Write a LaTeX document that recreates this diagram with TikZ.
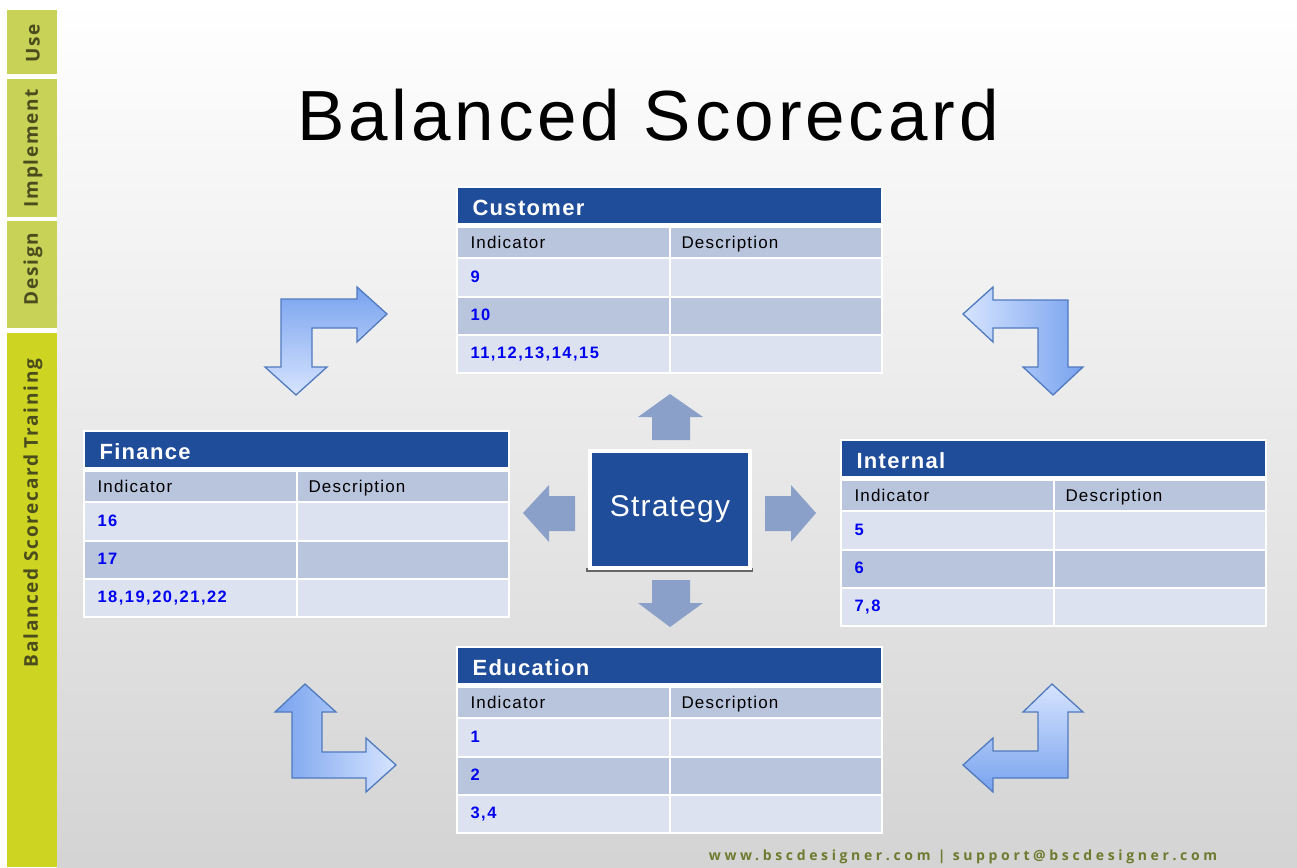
\documentclass[tikz,border=0pt]{standalone}
\usepackage{fontspec}
\setmainfont{Liberation Sans}
\newfontfamily\sidefont[LetterSpace=9]{Open Sans}
\newfontfamily\footfont[LetterSpace=26]{Open Sans}
\newfontfamily\titlefont[LetterSpace=5.5]{Liberation Sans}
\newfontfamily\headfont[LetterSpace=6]{Liberation Sans}
\newfontfamily\cellfont[LetterSpace=7]{Liberation Sans}
\newfontfamily\numfont[LetterSpace=9]{Liberation Sans}
\newfontfamily\stratfont[LetterSpace=4]{Liberation Sans}
\usepackage{tikz}
\usetikzlibrary{calc}
\definecolor{hdrblue}{RGB}{31,77,153}
\definecolor{rowdark}{RGB}{185,197,221}
\definecolor{rowlight}{RGB}{220,226,239}
\definecolor{numblue}{RGB}{0,0,240}
\definecolor{sidegreen}{RGB}{199,210,86}
\definecolor{sidelime}{RGB}{205,212,34}
\definecolor{sidetext}{RGB}{74,76,30}
\definecolor{footgreen}{RGB}{110,122,46}
\definecolor{stratarrow}{RGB}{138,160,201}
\definecolor{bentdark}{RGB}{120,162,238}
\definecolor{bentlight}{RGB}{214,228,255}
\definecolor{bentline}{RGB}{80,122,190}

\begin{document}
\begin{tikzpicture}[x=1pt, y=-1pt,
    bent/.style={draw=bentline, line width=1.3pt, line join=miter},
    sidelabel/.style={rotate=90, text=sidetext, font=\sidefont\bfseries\fontsize{19}{22}\selectfont}]
    \useasboundingbox (0,0) rectangle (1297,867);

    % background
    \fill[white] (0,0) rectangle (1297,867);
    \shade[top color=white, bottom color=black!17] (57,0) rectangle (1297,867);

    % side bar
    \fill[sidegreen] (7,10) rectangle (57,74);
    \fill[sidegreen] (7,79) rectangle (57,217);
    \fill[sidegreen] (7,221) rectangle (57,328);
    \fill[sidelime] (7,333) rectangle (57,867);
    \node[sidelabel] (use) at (33,43) {Use};
    \node[sidelabel] (impl) at (33,148) {Implement};
    \node[sidelabel] (design) at (33,269) {Design};
    \node[sidelabel] (train) at (33,513) {Balanced Scorecard Training};

    % title
    \node[anchor=base, font=\titlefont\fontsize{71}{80}\selectfont] (title) at (648,140) {Balanced Scorecard};

    % perspective tables
    \foreach \nm/\tx/\ty/\ttl/\va/\vb/\vc in {cust/458/188/Customer/9/10/{11,12,13,14,15},
                                             fin/85/432/Finance/16/17/{18,19,20,21,22},
                                             int/842/441/Internal/5/6/{7,8},
                                             edu/458/648/Education/1/2/{3,4}} {
        \fill[white] (\tx-2,\ty-2) rectangle (\tx+425,\ty+186);
        \fill[hdrblue] (\tx,\ty) rectangle (\tx+423,\ty+35);
        \foreach \ra/\rb/\col in {40/69/rowdark, 71/108/rowlight, 110/146/rowdark, 148/184/rowlight} {
            \fill[\col] (\tx,\ty+\ra) rectangle (\tx+211,\ty+\rb);
            \fill[\col] (\tx+213,\ty+\ra) rectangle (\tx+423,\ty+\rb);
        }
        \node[anchor=base west, text=white, font=\headfont\bfseries\fontsize{22}{25}\selectfont] (\nm-head) at (\tx+11,\ty+27) {\ttl};
        \node[anchor=base west, font=\cellfont\fontsize{17}{20}\selectfont] (\nm-ind) at (\tx+9,\ty+60) {Indicator};
        \node[anchor=base west, font=\cellfont\fontsize{17}{20}\selectfont] (\nm-desc) at (\tx+220,\ty+60) {Description};
        \node[anchor=base west, text=numblue, font=\numfont\bfseries\fontsize{16.5}{20}\selectfont] (\nm-a) at (\tx+9,\ty+94) {\va};
        \node[anchor=base west, text=numblue, font=\numfont\bfseries\fontsize{16.5}{20}\selectfont] (\nm-b) at (\tx+9,\ty+132) {\vb};
        \node[anchor=base west, text=numblue, font=\numfont\bfseries\fontsize{16.5}{20}\selectfont] (\nm-c) at (\tx+9,\ty+170) {\vc};
    }

    % strategy
    \fill[black!60] (586,568) rectangle (753,572);
    \node[fill=hdrblue, draw=white, line width=4pt, minimum width=160, minimum height=117,
          text=white, font=\stratfont\fontsize{30}{34}\selectfont] (strat) at (670,509.5) {Strategy};

    % arrows out of strategy
    \fill[stratarrow] (670,394) -- (703,417) -- (690,417) -- (690,440) -- (652,440) -- (652,417) -- (638,417) -- cycle;
    \fill[stratarrow] (652,580) -- (690,580) -- (690,603) -- (703,603) -- (670,627) -- (638,603) -- (652,603) -- cycle;
    \fill[stratarrow] (523,513) -- (549,485) -- (549,496) -- (575,496) -- (575,531) -- (549,531) -- (549,542) -- cycle;
    \fill[stratarrow] (816,513) -- (791,485) -- (791,496) -- (765,496) -- (765,531) -- (791,531) -- (791,542) -- cycle;

    % bent arrows between perspectives
    \shade[bent, top color=bentdark, bottom color=bentlight]
        (281,299) -- (357,299) -- (357,287) -- (387,314) -- (357,342) -- (357,328) -- (312,328)
        -- (312,367) -- (327,367) -- (296,395) -- (265,367) -- (281,367) -- cycle;
    \shade[bent, left color=bentlight, right color=bentdark]
        (963,314) -- (993,287) -- (993,300) -- (1068,300) -- (1068,367) -- (1083,367) -- (1053,395)
        -- (1023,367) -- (1038,367) -- (1038,328) -- (993,328) -- (993,342) -- cycle;
    \shade[bent, left color=bentdark, right color=bentlight]
        (305,684) -- (336,712) -- (322,712) -- (322,752) -- (366,752) -- (366,738) -- (396,765)
        -- (366,792) -- (366,778) -- (292,778) -- (292,712) -- (275,712) -- cycle;
    \shade[bent, top color=bentlight, bottom color=bentdark]
        (1052,684) -- (1083,712) -- (1068,712) -- (1068,778) -- (993,778) -- (993,792) -- (963,765)
        -- (993,738) -- (993,751) -- (1038,751) -- (1038,712) -- (1023,712) -- cycle;

    % footer
    \node[text=footgreen, font=\footfont\bfseries\fontsize{14}{16}\selectfont] (foot) at (963,857)
        {www.bscdesigner.com | support@bscdesigner.com};
\end{tikzpicture}
\end{document}
